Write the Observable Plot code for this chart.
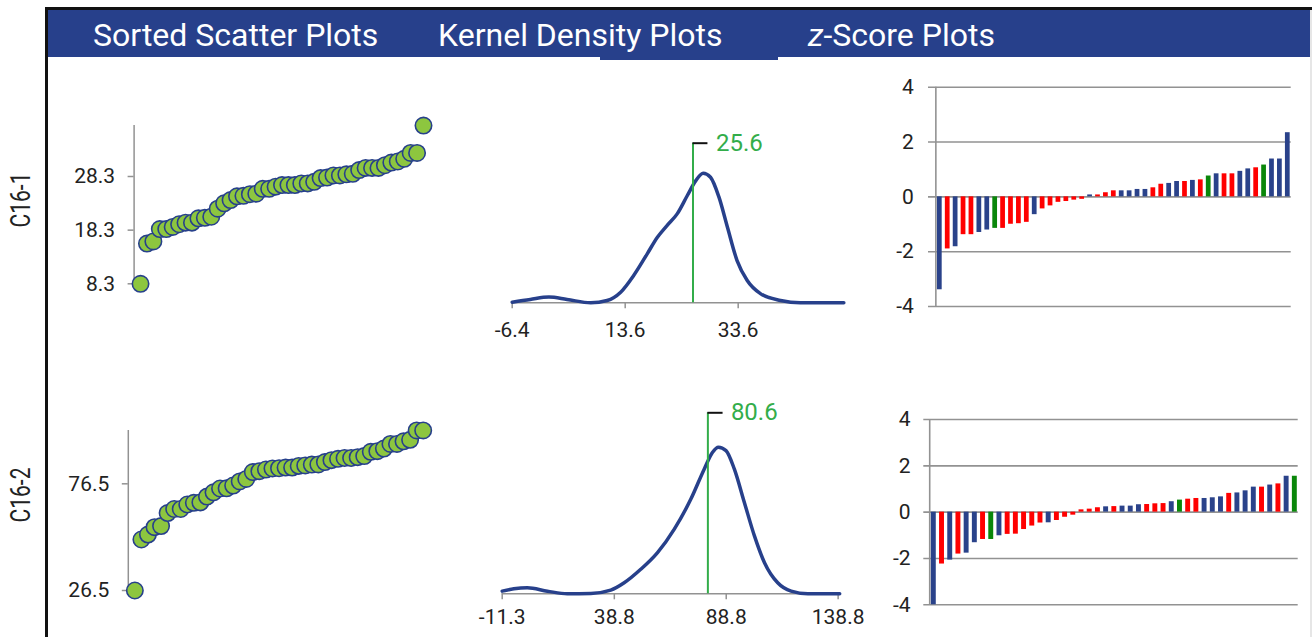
<!DOCTYPE html>
<html>
<head>
<meta charset="utf-8">
<script src="https://cdn.jsdelivr.net/npm/d3@7"></script>
<script src="https://cdn.jsdelivr.net/npm/@observablehq/plot@0.6"></script>
<style>
  html, body { margin: 0; padding: 0; background: #ffffff; }
  body { font-family: Roboto, "Open Sans", sans-serif; }
  #root { position: relative; width: 1312px; height: 637px; overflow: hidden; background: #ffffff; }
  .abs { position: absolute; }
  .hdr { position: absolute; color: #ffffff; font-size: 32px; font-weight: 400; line-height: 30px; white-space: nowrap; }
  .row { position: absolute; font-size: 28px; line-height: 28px; color: #222; white-space: nowrap;
         transform: translate(-50%, -50%) rotate(-90deg) scaleX(0.75); }
  svg text { font-family: Roboto, sans-serif; }
</style>
</head>
<body>
<div id="root"></div>
<script>
// ---------------- data ----------------
const headerTitles = ["Sorted Scatter Plots", "Kernel Density Plots", "-Score Plots"];
const rowLabels = ["C16-1", "C16-2"];

// sorted sample values (scatter plots)
const c16_1_sorted = [8.3,15.8,16.2,18.5,18.5,18.9,19.4,19.7,19.7,20.5,20.6,20.8,22.3,23.3,23.9,24.6,24.7,25.0,25.1,26.0,26.0,26.4,26.7,26.7,26.7,27.0,27.0,27.3,28.0,28.1,28.5,28.5,28.7,28.8,29.5,29.9,29.9,29.9,30.4,30.9,31.1,31.6,32.7,32.7,37.8];
const c16_2_sorted = [26.5,50.4,52.7,56.2,56.7,62.8,64.7,64.7,66.8,67.6,67.8,70.5,72.5,74.3,74.4,75.7,77.6,78.8,82.0,82.4,83.2,83.7,83.8,84.1,84.1,84.9,85.1,85.5,85.6,86.7,87.6,88.2,88.6,88.6,89.0,89.5,91.5,91.8,93.0,95.2,95.2,96.4,97.1,101.5,101.5];
const c16_1_ticks = [8.3, 18.3, 28.3];
const c16_2_ticks = [26.5, 76.5];

// kernel density curves (x value, relative density)
const kde1X = [-6.4,-3.2,0.1,3.3,7.5,10.4,12.8,15.1,17.5,19.3,21.0,22.8,24.6,26.1,27.4,28.7,30.2,31.7,33.4,35.2,37.6,41.1,44.6,52.3];
const kde1Y = [0.005,0.026,0.044,0.026,0.0,0.018,0.082,0.211,0.378,0.506,0.596,0.686,0.828,0.943,1.0,0.969,0.815,0.583,0.326,0.172,0.069,0.018,0.0,0.0];
const kde2X = [-11.3,-6.1,-0.1,8.9,17.8,28.3,37.2,43.2,50.6,58.1,65.6,73.0,79.0,82.7,85.3,88.7,92.4,96.9,101.4,105.9,111.8,117.8,125.3,139.5];
const kde2Y = [0.018,0.034,0.041,0.018,0.0,0.002,0.025,0.075,0.167,0.281,0.441,0.646,0.852,0.966,1.0,0.977,0.852,0.623,0.395,0.212,0.075,0.018,0.0,0.0];
const kde1Ticks = [-6.4, 13.6, 33.6];
const kde2Ticks = [-11.3, 38.8, 88.8, 138.8];
const c16_1_mean = 25.6;
const c16_2_mean = 80.6;

// z-scores (sorted) and bar groups
const z1 = [-3.39,-1.90,-1.82,-1.38,-1.38,-1.30,-1.21,-1.15,-1.15,-1.00,-0.98,-0.93,-0.65,-0.44,-0.33,-0.20,-0.17,-0.12,-0.09,0.07,0.07,0.15,0.22,0.22,0.22,0.27,0.27,0.33,0.46,0.49,0.56,0.56,0.60,0.62,0.76,0.84,0.84,0.84,0.93,1.02,1.06,1.16,1.38,1.38,2.34];
const g1 = ["b","r","b","r","r","b","b","g","r","r","r","r","b","r","r","r","r","r","r","b","r","r","r","b","b","b","b","r","r","b","b","r","b","r","g","b","r","r","b","b","r","g","b","b","b"];
const z2 = [-4.0,-2.24,-2.07,-1.81,-1.77,-1.32,-1.18,-1.18,-1.02,-0.96,-0.95,-0.75,-0.60,-0.47,-0.46,-0.36,-0.22,-0.13,0.10,0.13,0.19,0.23,0.24,0.26,0.26,0.32,0.33,0.36,0.37,0.45,0.52,0.56,0.59,0.59,0.62,0.66,0.81,0.83,0.92,1.08,1.08,1.17,1.22,1.55,1.55];
const g2 = ["b","r","b","r","b","b","r","g","b","r","r","r","r","r","b","r","r","r","r","r","r","b","r","b","b","b","r","r","r","b","g","r","r","b","b","b","r","b","b","b","r","b","r","b","g"];
const zTicks = [-4, -2, 0, 2, 4];

// ---------------- styles ----------------
const NAVY = "#27408b";
const BAR_BLUE = "#2a428a";
const BAR_RED = "#ff0000";
const BAR_GREEN = "#0a870a";
const POINT_FILL = "#8dc63f";
const MEAN_GREEN = "#33ad4a";
const GRAY = "#929292";
const TEXT = "#222222";
const TICK_FONT = 21;
const baseStyle = {background: "transparent", fontFamily: "Roboto, sans-serif", fontSize: "21px", overflow: "visible"};

const root = document.getElementById("root");
function box(left, top, width, height, color) {
  const d = document.createElement("div");
  d.className = "abs";
  Object.assign(d.style, {left: left + "px", top: top + "px", width: width + "px", height: height + "px", background: color});
  root.appendChild(d);
}
function place(el, left, top) {
  const d = document.createElement("div");
  d.className = "abs";
  d.style.left = left + "px";
  d.style.top = top + "px";
  d.appendChild(el);
  root.appendChild(d);
}

// ---------------- frame & header ----------------
box(46, 7, 1266, 3, "#111");
box(45, 7, 3, 630, "#111");
box(48, 10, 1262, 47, NAVY);
box(600, 57, 178, 3, NAVY);
box(1310, 10, 2, 627, "#e6e6e6");

const hdrLeft = [93, 438, 808];
headerTitles.forEach((t, k) => {
  const s = document.createElement("div");
  s.className = "hdr";
  s.style.left = hdrLeft[k] + "px";
  s.style.top = "20px";
  if (k === 2) {
    const i = document.createElement("i");
    i.textContent = "z";
    s.appendChild(i);
    s.appendChild(document.createTextNode(t));
  } else s.textContent = t;
  root.appendChild(s);
});

const rowCenters = [200, 495];
rowLabels.forEach((t, k) => {
  const s = document.createElement("div");
  s.className = "row";
  s.style.left = "21px";
  s.style.top = rowCenters[k] + "px";
  s.textContent = t;
  root.appendChild(s);
});

// ---------------- chart builders ----------------
function scatter(vals, ticks, g) {
  const data = vals.map((v, k) => ({rank: k + 1, value: v}));
  return Plot.plot({
    width: g.width, height: g.height,
    marginLeft: g.ml, marginRight: g.mr, marginTop: g.mt, marginBottom: g.mb,
    style: baseStyle,
    x: {domain: [0, vals.length], axis: null},
    y: {domain: g.yDomain, axis: null},
    marks: [
      Plot.ruleX([0], {y1: d3.min(vals), y2: d3.max(vals), stroke: GRAY, strokeWidth: 1.5}),
      Plot.axisY(ticks, {label: null, tickSize: 6, tickPadding: 13, stroke: GRAY, color: TEXT, fontSize: TICK_FONT, strokeWidth: 1.5, tickFormat: d => d.toFixed(1)}),
      Plot.dot(data, {x: "rank", y: "value", r: 8.2, fill: POINT_FILL, stroke: NAVY, strokeWidth: 1.6})
    ]
  });
}

function density(xs, ys, ticks, mean, g) {
  const data = xs.map((x, k) => ({x, y: ys[k]}));
  const span = g.xDomain[1] - g.xDomain[0];
  return Plot.plot({
    width: g.width, height: g.height,
    marginLeft: g.ml, marginRight: g.mr, marginTop: g.mt, marginBottom: g.mb,
    style: baseStyle,
    x: {domain: g.xDomain, axis: null},
    y: {domain: [0, 1], axis: null},
    marks: [
      Plot.ruleY([0], {stroke: GRAY, strokeWidth: 1.5}),
      Plot.axisX(ticks, {label: null, tickSize: 6, tickPadding: g.pad, stroke: GRAY, color: TEXT, fontSize: TICK_FONT, strokeWidth: 1.5, tickFormat: d => d.toFixed(1)}),
      Plot.line(data, {x: "x", y: "y", curve: "monotone-x", stroke: NAVY, strokeWidth: 3.5}),
      Plot.ruleX([mean], {y1: 0, y2: g.top, stroke: MEAN_GREEN, strokeWidth: 2}),
      Plot.ruleY([g.top], {x1: mean, x2: mean + span * 0.045, stroke: "#111", strokeWidth: 2}),
      Plot.text([mean], {x: d => d, y: g.top, text: d => d.toFixed(1), dx: 23, textAnchor: "start", fill: MEAN_GREEN, fontSize: 24})
    ]
  });
}

function zplot(zs, groups, g) {
  const data = zs.map((z, k) => ({rank: k + 1, z, group: groups[k]}));
  return Plot.plot({
    width: g.width, height: g.height,
    marginLeft: g.ml, marginRight: g.mr, marginTop: g.mt, marginBottom: g.mb,
    style: baseStyle,
    x: {domain: g.xDomain, axis: null},
    y: {domain: [-4, 4], axis: null},
    color: {domain: ["b", "r", "g"], range: [BAR_BLUE, BAR_RED, BAR_GREEN]},
    marks: [
      Plot.ruleY(zTicks, {stroke: GRAY, strokeWidth: 1.6}),
      Plot.ruleX([0.5], {y1: -4, y2: 4, stroke: GRAY, strokeWidth: 1.6}),
      Plot.axisY(zTicks, {label: null, tickSize: 0, tickPadding: g.pad, color: TEXT, fontSize: TICK_FONT, tickFormat: d => String(d)}),
      Plot.rect(data, {x1: d => d.rank - 0.3, x2: d => d.rank + 0.3, y1: 0, y2: "z", fill: "group"})
    ]
  });
}

// ---------------- panels ----------------
place(scatter(c16_1_sorted, c16_1_ticks,
  {width: 380, height: 200, ml: 73.6, mr: 17, mt: 22.35, mb: 16.7, yDomain: [8.3, 38.3]}), 60, 100);
place(scatter(c16_2_sorted, c16_2_ticks,
  {width: 380, height: 237, ml: 67.8, mr: 17.3, mt: 19.3, mb: 47, yDomain: [26.5, 106.5]}), 60, 400);

place(density(kde1X, kde1Y, kde1Ticks, c16_1_mean,
  {width: 400, height: 240, ml: 41.7, mr: 26.1, mt: 62.7, mb: 47.7, xDomain: [-6.4, 52.4], top: 1.2315, pad: 13}), 470, 110);
place(density(kde2X, kde2Y, kde2Ticks, c16_2_mean,
  {width: 400, height: 247, ml: 31.7, mr: 30.8, mt: 56.7, mb: 43.7, xDomain: [-11.3, 139.5], top: 1.2347, pad: 9}), 470, 390);

place(zplot(z1, g1,
  {width: 432, height: 250, ml: 48, mr: 21.3, mt: 16.7, mb: 14, xDomain: [-0.43, 45.43], pad: 14.7}), 880, 70);
place(zplot(z2, g2,
  {width: 432, height: 237, ml: 43.3, mr: 14.3, mt: 19, mb: 32.7, xDomain: [-0.22, 45.41], pad: 13.3}), 880, 400);
</script>
</body>
</html>
